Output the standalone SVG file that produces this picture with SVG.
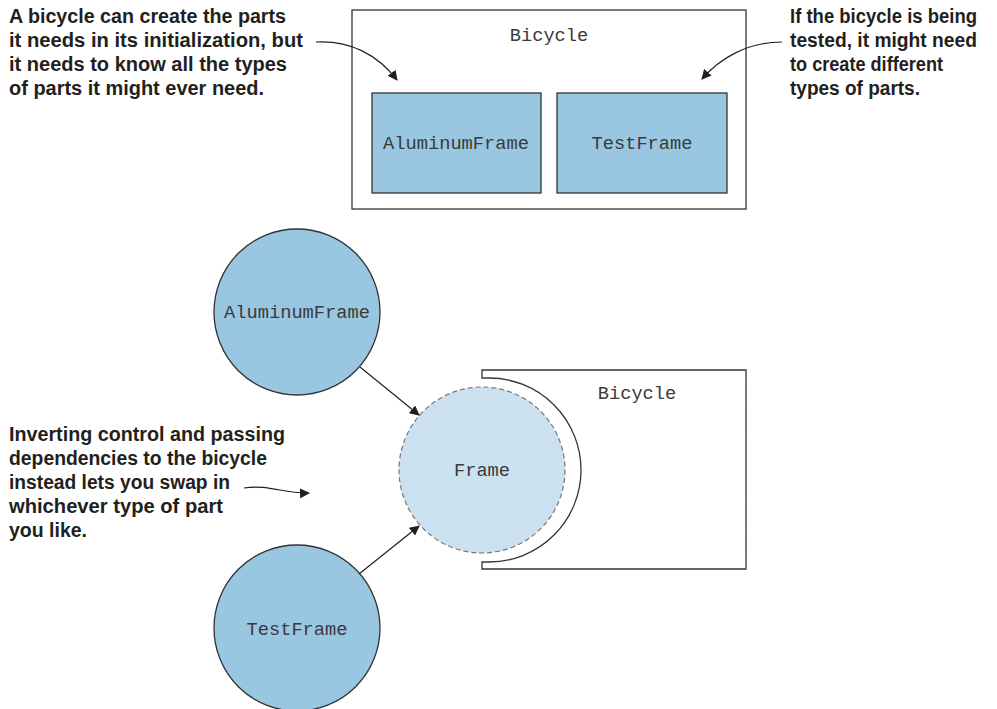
<svg xmlns="http://www.w3.org/2000/svg" width="997" height="709" viewBox="0 0 997 709">
<style>
.note{font-family:"Liberation Sans",Arial,sans-serif;font-weight:bold;font-size:19.5px;fill:#231f20}
.mono{font-family:"Liberation Mono","Courier New",monospace;font-size:18.7px;fill:#3a3a3a;text-anchor:middle}
.box{fill:#fff;stroke:#333;stroke-width:1.3}
.part{fill:#99c6e1;stroke:#333;stroke-width:1.3}
.conn{fill:none;stroke:#231f20;stroke-width:1.2}
</style>
<defs>
<marker id="ah" viewBox="0 0 10 10" refX="9" refY="5" markerWidth="10" markerHeight="10" markerUnits="userSpaceOnUse" orient="auto">
<path d="M0,0 L10,5 L0,10 Z" fill="#231f20"/>
</marker>
</defs>
<g id="note-top-left">
<text class="note" x="9" y="23" textLength="277" lengthAdjust="spacingAndGlyphs">A bicycle can create the parts</text>
<text class="note" x="9" y="47" textLength="294" lengthAdjust="spacingAndGlyphs">it needs in its initialization, but</text>
<text class="note" x="9" y="71" textLength="278" lengthAdjust="spacingAndGlyphs">it needs to know all the types</text>
<text class="note" x="9" y="95" textLength="255" lengthAdjust="spacingAndGlyphs">of parts it might ever need.</text>
</g>
<g id="note-top-right">
<text class="note" x="790" y="23" textLength="187" lengthAdjust="spacingAndGlyphs">If the bicycle is being</text>
<text class="note" x="790" y="47" textLength="187" lengthAdjust="spacingAndGlyphs">tested, it might need</text>
<text class="note" x="790" y="71" textLength="153" lengthAdjust="spacingAndGlyphs">to create different</text>
<text class="note" x="790" y="95" textLength="130" lengthAdjust="spacingAndGlyphs">types of parts.</text>
</g>
<g id="bicycle-top">
<rect class="box" x="352" y="10" width="394" height="199"/>
<text class="mono" x="549" y="41">Bicycle</text>
</g>
<g id="aluminum-frame-box">
<rect class="part" x="372" y="93" width="169" height="100"/>
<text class="mono" x="456" y="149">AluminumFrame</text>
</g>
<g id="test-frame-box">
<rect class="part" x="557" y="93" width="170" height="100"/>
<text class="mono" x="642" y="149">TestFrame</text>
</g>
<g id="bicycle-bottom">
<path class="box" d="M482,370 H746 V569 H482 V562 H489 A92,92 0 0 0 489,378 H482 Z"/>
<text class="mono" x="637" y="399">Bicycle</text>
</g>
<g id="frame">
<circle cx="482" cy="470" r="83" fill="#cce1f0" stroke="#777" stroke-width="1.2" stroke-dasharray="5,3"/>
<text class="mono" x="482" y="476">Frame</text>
</g>
<g id="aluminum-frame-circle">
<circle class="part" cx="297" cy="312" r="83"/>
<text class="mono" x="297" y="318">AluminumFrame</text>
</g>
<g id="test-frame-circle">
<circle class="part" cx="297" cy="628" r="83"/>
<text class="mono" x="297" y="635">TestFrame</text>
</g>
<g id="note-bottom-left">
<text class="note" x="9" y="441" textLength="276" lengthAdjust="spacingAndGlyphs">Inverting control and passing</text>
<text class="note" x="9" y="465" textLength="258" lengthAdjust="spacingAndGlyphs">dependencies to the bicycle</text>
<text class="note" x="9" y="489" textLength="221" lengthAdjust="spacingAndGlyphs">instead lets you swap in</text>
<text class="note" x="9" y="513" textLength="214" lengthAdjust="spacingAndGlyphs">whichever type of part</text>
<text class="note" x="9" y="537" textLength="78" lengthAdjust="spacingAndGlyphs">you like.</text>
</g>
<g id="connectors">
<path class="conn" marker-end="url(#ah)" d="M316,42 C350,40 378,55 397,80"/>
<path class="conn" marker-end="url(#ah)" d="M782,42 C748,42 720,58 702,79"/>
<path class="conn" marker-end="url(#ah)" d="M244,488 C268,484 285,494 309,493"/>
<path class="conn" marker-end="url(#ah)" d="M360,367 L419,415"/>
<path class="conn" marker-end="url(#ah)" d="M359,574 L419,526"/>
</g>
</svg>
